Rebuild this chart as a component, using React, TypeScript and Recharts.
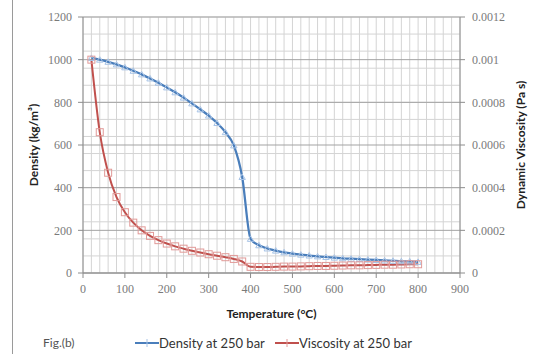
import React from "react";
import { LineChart, Line, XAxis, YAxis, CartesianGrid } from "recharts";

// temperature (°C), sampled every 20 degrees
const temps = [
  20, 40, 60, 80, 100, 120, 140, 160, 180, 200, 220, 240, 260, 280, 300, 320, 340, 360, 380, 400,
  420, 440, 460, 480, 500, 520, 540, 560, 580, 600, 620, 640, 660, 680, 700, 720, 740, 760, 780, 800,
];

// density at 250 bar (kg/m3)
const density = [
  1008, 1000, 990, 978, 964, 948, 931, 912, 892, 870, 847, 822, 795, 767, 738, 703, 660, 598, 450, 160,
  130, 115, 105, 97, 91, 86, 82, 78, 75, 72, 69, 67, 65, 63, 61, 59, 57, 55, 54, 52,
];

// dynamic viscosity at 250 bar (Pa s)
const viscosity = [
  0.001, 0.00066, 0.00047, 0.000356, 0.000285, 0.000236, 0.0002, 0.000174, 0.000154, 0.000138,
  0.000125, 0.000114, 0.000104, 0.000096, 0.000088, 0.000081, 0.000074, 0.000066, 0.000054, 0.000029,
  0.000028, 0.000028, 0.000029, 0.00003, 0.00003, 0.000031, 0.000032, 0.000033, 0.000033, 0.000034,
  0.000035, 0.000036, 0.000036, 0.000037, 0.000038, 0.000039, 0.000039, 0.00004, 0.000041, 0.000041,
];

const xTicks = [0, 100, 200, 300, 400, 500, 600, 700, 800, 900];
const densityTicks = [0, 200, 400, 600, 800, 1000, 1200];
const viscosityTicks = [0, 0.0002, 0.0004, 0.0006, 0.0008, 0.001, 0.0012];

const data = temps.map((t, i) => ({ t, density: density[i], viscosity: viscosity[i] }));

// grid positions: minor horizontal every 80, vertical every 20
const minorRows = Array.from({ length: 16 }, (_, i) => i * 80);
const gridCols = Array.from({ length: 46 }, (_, i) => i * 20);

const tickFont = { fontFamily: "Liberation Serif", fontSize: 12, fill: "#7a7a7a" };
const titleFont = { fontFamily: "Lato", fontSize: 12, fontWeight: 700, fill: "#222" };

const scaleOf = (axis: any) => {
  const s = axis && axis.scale;
  if (!s) return null;
  return typeof s === "function" ? s : s.map ? (v: number) => s.map(v) : null;
};

const rowsGen = (props: any) => {
  const s = scaleOf(props.yAxis);
  return s ? minorRows.map((v) => s(v)) : [];
};
const majorRowsGen = (props: any) => {
  const s = scaleOf(props.yAxis);
  return s ? densityTicks.map((v) => s(v)) : [];
};
const colsGen = (props: any) => {
  const s = scaleOf(props.xAxis);
  return s ? gridCols.map((v) => s(v)) : [];
};

const TriangleDot = (p: any) => {
  const { cx, cy } = p;
  if (cx == null || cy == null) return null;
  return (
    <path
      d={`M${cx},${cy - 3} L${cx + 3.2},${cy + 2.5} L${cx - 3.2},${cy + 2.5} Z`}
      fill="none"
      stroke="#a7c3e6"
      strokeWidth={1}
    />
  );
};

const SquareDot = (p: any) => {
  const { cx, cy } = p;
  if (cx == null || cy == null) return null;
  return <rect x={cx - 3.5} y={cy - 3.5} width={7} height={7} fill="none" stroke="#e19a98" strokeWidth={1} />;
};

const LeftTitle = (p: any) => {
  const vb = p.viewBox || { x: 23, y: 17, width: 60, height: 256 };
  const x = vb.x + 10;
  const y = vb.y + vb.height / 2;
  return (
    <text x={x} y={y} transform={`rotate(-90 ${x} ${y})`} textAnchor="middle" dominantBaseline="central" style={titleFont}>
      Density  (kg/m³)
    </text>
  );
};

const RightTitle = (p: any) => {
  const vb = p.viewBox || { x: 460, y: 17, width: 60, height: 256 };
  const x = vb.x + 60;
  const y = vb.y + vb.height / 2;
  return (
    <text x={x} y={y} transform={`rotate(-90 ${x} ${y})`} textAnchor="middle" dominantBaseline="central" style={titleFont}>
      Dynamic Viscosity  (Pa s)
    </text>
  );
};

const BottomTitle = (p: any) => {
  const vb = p.viewBox || { x: 83, y: 273, width: 377, height: 30 };
  return (
    <text x={vb.x + vb.width / 2} y={vb.y + 40} textAnchor="middle" dominantBaseline="central" style={titleFont}>
      Temperature (°C)
    </text>
  );
};

const legendText: React.CSSProperties = { position: "absolute", top: 335, fontFamily: "Lato", fontSize: 13, color: "#333", lineHeight: "16px" };

const LegendSample = ({ color, marker }: { color: string; marker: string }) => (
  <svg width={24} height={10} style={{ display: "block" }}>
    <line x1={0} y1={5} x2={24} y2={5} stroke={color} strokeWidth={2} />
    <line x1={12} y1={1} x2={12} y2={9} stroke={marker} strokeWidth={1} />
  </svg>
);

const App = () => {
  return (
    <div style={{ position: "absolute", left: 0, top: 0, width: 539, height: 354, background: "#fff" }}>
      <div style={{ position: "absolute", left: 12, top: 0, width: 1, height: 354, background: "#9a9a9a" }} />
      <LineChart width={539} height={354} data={data} margin={{ top: 17, right: 19, bottom: 51, left: 23 }}>
        <CartesianGrid
          xAxisId="x"
          yAxisId="left"
          horizontalCoordinatesGenerator={rowsGen}
          verticalCoordinatesGenerator={colsGen}
          stroke="#d4d4d4"
          strokeWidth={1}
        />
        <CartesianGrid
          xAxisId="x"
          yAxisId="left"
          vertical={false}
          horizontalCoordinatesGenerator={majorRowsGen}
          stroke="#a3a3a3"
          strokeWidth={1}
        />
        <XAxis
          xAxisId="x"
          dataKey="t"
          type="number"
          domain={[0, 900]}
          ticks={xTicks}
          height={30}
          tick={tickFont}
          tickSize={5}
          tickMargin={6}
          stroke="#8c8c8c"
          label={<BottomTitle />}
        />
        <YAxis
          yAxisId="left"
          domain={[0, 1200]}
          ticks={densityTicks}
          width={60}
          tick={tickFont}
          tickSize={5}
          tickMargin={6}
          stroke="#8c8c8c"
          label={<LeftTitle />}
        />
        <YAxis
          yAxisId="right"
          orientation="right"
          domain={[0, 0.0012]}
          ticks={viscosityTicks}
          tickFormatter={(v: number) => String(v)}
          width={60}
          tick={{ ...tickFont, textAnchor: "start" }}
          tickSize={5}
          tickMargin={7}
          stroke="#8c8c8c"
          label={<RightTitle />}
        />
        <Line xAxisId="x" yAxisId="left" dataKey="density" stroke="none" dot={<TriangleDot />} isAnimationActive={false} />
        <Line xAxisId="x" yAxisId="right" dataKey="viscosity" stroke="none" dot={<SquareDot />} isAnimationActive={false} />
        <Line xAxisId="x" yAxisId="left" type="monotone" dataKey="density" stroke="#4a7ebb" strokeWidth={2.25} dot={false} isAnimationActive={false} />
        <Line xAxisId="x" yAxisId="right" type="monotone" dataKey="viscosity" stroke="#c0504d" strokeWidth={2} dot={false} isAnimationActive={false} />
      </LineChart>
      <div style={{ ...legendText, left: 43, fontSize: 12, color: "#555" }}>Fig.(b)</div>
      <div style={{ position: "absolute", left: 135, top: 338 }}>
        <LegendSample color="#4a7ebb" marker="#a7c3e6" />
      </div>
      <div style={{ ...legendText, left: 159 }}>Density at 250 bar</div>
      <div style={{ position: "absolute", left: 275, top: 338 }}>
        <LegendSample color="#c0504d" marker="#e19a98" />
      </div>
      <div style={{ ...legendText, left: 299 }}>Viscosity at 250 bar</div>
    </div>
  );
};

export default App;
